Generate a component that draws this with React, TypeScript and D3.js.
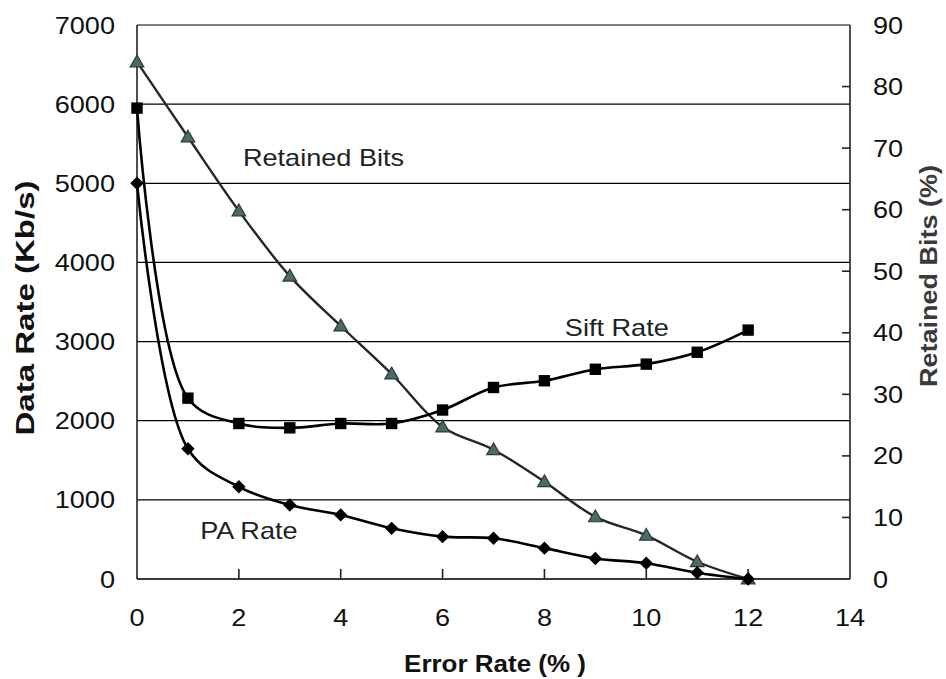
import React from 'react';
import * as d3 from 'd3';

const W = 946
const H = 679
const margin = { top: 25, right: 96, bottom: 100, left: 137 }
const font = 'Liberation Sans, Arial, sans-serif'
const stretch = 1.13

// error rate (%)
const errorRate = [0, 1, 2, 3, 4, 5, 6, 7, 8, 9, 10, 11, 12]
// Kb/s, left axis
const siftRate = [5950, 2285, 1965, 1910, 1965, 1965, 2135, 2420, 2505, 2650, 2715, 2865, 3145]
const paRate = [5000, 1645, 1165, 935, 810, 640, 535, 515, 390, 260, 200, 80, 0]
// %, right axis
const retainedBits = [84.0, 71.8, 59.8, 49.2, 41.1, 33.3, 24.7, 21.0, 15.8, 10.1, 7.1, 2.8, 0]

const xTicks = [0, 2, 4, 6, 8, 10, 12, 14]
const leftTicks = [0, 1000, 2000, 3000, 4000, 5000, 6000, 7000]
const rightTicks = [0, 10, 20, 30, 40, 50, 60, 70, 80, 90]

const labels = [
  { text: 'Retained Bits', x: 2.08, y: 5215 },
  { text: 'Sift Rate', x: 8.4, y: 3070 },
  { text: 'PA Rate', x: 1.24, y: 505 },
]

const styles = {
  grid: { stroke: '#000', strokeWidth: 1.2 },
  axis: { stroke: '#222', strokeWidth: 1.6 },
  line: { stroke: '#000', strokeWidth: 2.6 },
  retained: { stroke: '#262626', strokeWidth: 2.4 },
  triangle: { fill: '#4b6a68', stroke: '#2c3b3a' },
  tick: { fontSize: 24, fill: '#111' },
  title: { fontSize: 24, fill: '#111' },
}

function StretchText({ x, y, anchor = 'start', size, weight = 'normal', fill = '#111', children }) {
  return (
    <g transform={`translate(${x},${y}) scale(${stretch},1)`}>
      <text
        textAnchor={anchor}
        fontSize={size}
        fontWeight={weight}
        fontFamily={font}
        fill={fill}
      >
        {children}
      </text>
    </g>
  )
}

export default function App() {
  const x = d3.scaleLinear().domain([0, 14]).range([margin.left, W - margin.right - 0])
  const yL = d3.scaleLinear().domain([0, 7000]).range([H - margin.bottom, margin.top])
  const yR = d3.scaleLinear().domain([0, 90]).range([H - margin.bottom, margin.top])

  const x0 = x(0)
  const x1 = x(14)
  const yBottom = yL(0)

  const curve = d3.curveCatmullRom.alpha(0.5)
  const lineL = d3
    .line<number>()
    .x((d, i) => x(errorRate[i]))
    .y(d => yL(d))
    .curve(curve)
  const lineR = d3
    .line<number>()
    .x((d, i) => x(errorRate[i]))
    .y(d => yR(d))
    .curve(curve)

  const diamond = d3.symbol().type(d3.symbolDiamond2).size(115)()
  const square = d3.symbol().type(d3.symbolSquare).size(130)()
  const tri = d3.symbol().type(d3.symbolTriangle).size(80)()

  return (
    <svg
      width={W}
      height={H}
      style={{ position: 'absolute', left: 0, top: 0, background: '#fff' }}
    >
      {/* gridlines */}
      {leftTicks.map(t => (
        <line key={'g' + t} x1={x0} x2={x1} y1={yL(t)} y2={yL(t)} {...styles.grid} />
      ))}

      {/* axes */}
      <line x1={x0} x2={x0} y1={yL(7000)} y2={yBottom} {...styles.axis} />
      <line x1={x1} x2={x1} y1={yL(7000)} y2={yBottom} {...styles.axis} />
      <line x1={x0} x2={x1} y1={yBottom} y2={yBottom} {...styles.axis} />

      {/* inner ticks */}
      {xTicks.slice(1, -1).map(t => (
        <line key={'xt' + t} x1={x(t)} x2={x(t)} y1={yBottom} y2={yBottom - 10} {...styles.axis} />
      ))}
      {rightTicks.slice(1, -1).map(t => (
        <line key={'rt' + t} x1={x1} x2={x1 - 8} y1={yR(t)} y2={yR(t)} {...styles.axis} />
      ))}

      {/* tick labels */}
      {leftTicks.map(t => (
        <StretchText key={'ll' + t} x={115} y={yL(t) + 8.5} anchor="end" size={styles.tick.fontSize}>
          {t}
        </StretchText>
      ))}
      {rightTicks.map(t => (
        <StretchText key={'rl' + t} x={873} y={yR(t) + 8.5} size={styles.tick.fontSize}>
          {t}
        </StretchText>
      ))}
      {xTicks.map(t => (
        <StretchText key={'xl' + t} x={x(t)} y={626} anchor="middle" size={styles.tick.fontSize}>
          {t}
        </StretchText>
      ))}

      {/* axis titles */}
      <text
        transform={`translate(34,${308}) rotate(-90)`}
        textAnchor="middle"
        fontSize={25}
        fontWeight="bold"
        fontFamily={font}
        fill="#111"
        textLength={255}
        lengthAdjust="spacingAndGlyphs"
      >
        Data Rate (Kb/s)
      </text>
      <text
        transform={`translate(937,${276}) rotate(-90)`}
        textAnchor="middle"
        fontSize={24}
        fontWeight="bold"
        fontFamily={font}
        fill="#3a3a3a"
        textLength={222}
        lengthAdjust="spacingAndGlyphs"
      >
        Retained Bits (%)
      </text>
      <StretchText x={495} y={672} anchor="middle" size={23} weight="bold">
        Error Rate (% )
      </StretchText>

      {/* series */}
      <path d={lineR(retainedBits) || ''} fill="none" {...styles.retained} />
      <path d={lineL(siftRate) || ''} fill="none" {...styles.line} />
      <path d={lineL(paRate) || ''} fill="none" {...styles.line} />

      {retainedBits.map((v, i) => (
        <path
          key={'tr' + i}
          d={tri || ''}
          transform={`translate(${x(errorRate[i])},${yR(v) + 1})`}
          fill={styles.triangle.fill}
          stroke={styles.triangle.stroke}
          strokeWidth={1.2}
        />
      ))}
      {siftRate.map((v, i) => (
        <path key={'sq' + i} d={square || ''} transform={`translate(${x(errorRate[i])},${yL(v)})`} fill="#000" />
      ))}
      {paRate.map((v, i) => (
        <path
          key={'dm' + i}
          d={diamond || ''}
          transform={`translate(${x(errorRate[i])},${yL(v)})`}
          fill="#000"
        />
      ))}

      {/* series labels */}
      {labels.map(l => (
        <StretchText key={l.text} x={x(l.x)} y={yL(l.y)} size={styles.title.fontSize} fill="#222">
          {l.text}
        </StretchText>
      ))}
    </svg>
  )
}
